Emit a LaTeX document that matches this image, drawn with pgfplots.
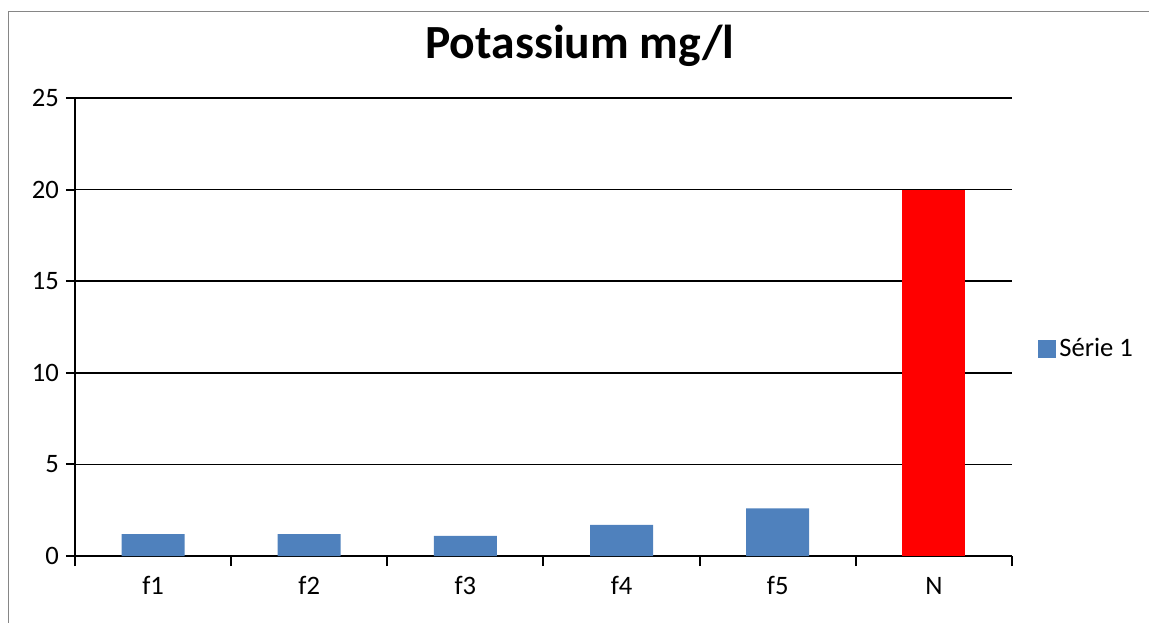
\documentclass[border=0pt]{standalone}
\usepackage{fontspec}
\setmainfont{Carlito}
\usepackage{pgfplots}
\pgfplotsset{compat=1.18}
\usetikzlibrary{calc}
\definecolor{serieblue}{HTML}{4F81BD}
\definecolor{framegray}{RGB}{134,134,134}
\begin{document}
\begin{tikzpicture}
\begin{axis}[
  scale only axis, width=468.5bp, height=229bp,
  xmin=-0.5, xmax=5.5, ymin=0, ymax=25,
  axis x line*=bottom, axis y line*=left,
  axis line style={black, line width=1bp},
  tick align=outside,
  major tick length=4.5bp,
  tick style={black, line width=1bp},
  ytick={0,5,...,25},
  % category boundaries carry the tick marks
  xtick={-0.5,0.5,...,5.5}, xticklabels={},
  xtick style={/pgfplots/major tick length=5bp},
  % category names sit between them
  extra x ticks={0,...,5},
  extra x tick labels={f1,f2,f3,f4,f5,N},
  extra x tick style={major tick length=0pt, tick style={draw=none}},
  ymajorgrids, grid style={black, line width=0.9bp},
  /pgf/number format/assume math mode=true,
  ticklabel style={font=\fontsize{13.3bp}{16bp}\selectfont},
  xticklabel style={anchor=base, yshift=-19bp},
  yticklabel style={anchor=east},
  legend style={draw=none, fill=none, at={(1.0277,0.452)}, anchor=west,
    inner sep=0pt, font=\fontsize{13.3bp}{16bp}\selectfont,
    nodes={inner sep=1.5bp}},
  legend cell align=left,
]
\coordinate (o) at (rel axis cs:0,0);
\addplot[ybar, bar width=31.5bp, bar shift=0pt, fill=serieblue, draw=none,
  legend image code/.code={\fill[serieblue] (0bp,-4.5bp) rectangle (9bp,4.5bp);}]
  coordinates {(0,1.2) (1,1.2) (2,1.1) (3,1.7) (4,2.6)};
\addlegendentry{Série 1}
\addplot[ybar, bar width=31.5bp, bar shift=0pt, fill=red, draw=none, forget plot]
  coordinates {(5,20)};
\end{axis}
% page size and the outer frame of the chart area
\path[use as bounding box] ($(o)+(-37.5bp,-33.5bp)$) rectangle ($(o)+(537bp,278bp)$);
\draw[framegray, line width=0.7bp] ($(o)+(-33.2bp,-40bp)$) -- ($(o)+(-33.2bp,272.1bp)$) -- ($(o)+(545bp,272.1bp)$);
\node[anchor=base, inner sep=0pt, font=\fontsize{23.8bp}{28bp}\selectfont\bfseries] at ($(o)+(252.5bp,248.5bp)$) {Potassium mg/l};
\end{tikzpicture}
\end{document}
